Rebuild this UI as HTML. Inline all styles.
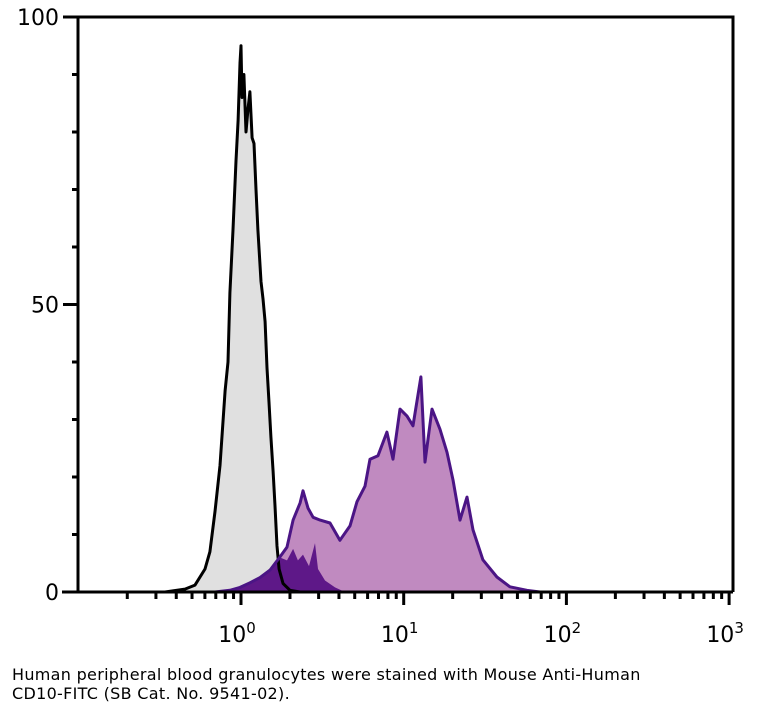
<!DOCTYPE html>
<html><head><meta charset="utf-8"><style>
html,body{margin:0;padding:0;background:#fff;width:762px;height:716px;overflow:hidden}
#cap{position:absolute;left:12px;top:665px;font:16px "DejaVu Sans",sans-serif;letter-spacing:0.3px;color:#000;line-height:19px}
</style></head><body>
<svg id="chart" width="762" height="660" style="position:absolute;left:0;top:0" xmlns="http://www.w3.org/2000/svg"></svg>
<div id="cap">Human peripheral blood granulocytes were stained with Mouse Anti-Human<br>CD10-FITC (SB Cat. No. 9541-02).</div>
<script>
const grayLog=[-0.467,-0.344,-0.283,-0.221,-0.191,-0.160,-0.129,-0.098,-0.080,-0.068,-0.049,-0.031,-0.018,-0.006,0,0.006,0.018,0.031,0.043,0.055,0.068,0.080,0.092,0.104,0.123,0.135,0.148,0.160,0.172,0.184,0.197,0.209,0.221,0.234,0.258,0.301,0.363];
const grayPct=[0,0.5,1.2,4,7,14,22,35,40,52,63,75,82,92,95,86,90,80,84,87,79,78,70,63,54,51,47,39,33,27,21,15,8,4,1.5,0.3,0];
const purpLog=[-0.160,-0.068,-0.006,0.055,0.117,0.178,0.240,0.283,0.320,0.363,0.381,0.412,0.443,0.486,0.547,0.608,0.670,0.713,0.762,0.793,0.842,0.897,0.934,0.977,1.020,1.057,1.106,1.131,1.174,1.223,1.266,1.303,1.346,1.389,1.426,1.487,1.573,1.653,1.758,1.838];
const purpPct=[0,0.3,0.8,1.6,2.5,3.8,6.1,7.8,12.5,15.5,17.6,14.6,13.0,12.5,12.0,9,11.5,15.7,18.4,23.1,23.7,27.8,23.1,31.8,30.6,28.9,37.4,22.6,31.8,28.3,24.3,19.5,12.5,16.5,10.8,5.6,2.6,0.9,0.3,0];
const darkLog=[-0.160,-0.006,0.055,0.117,0.178,0.240,0.283,0.320,0.350,0.381,0.418,0.455,0.473,0.516,0.578,0.639];
const darkPct=[0,0.8,1.6,2.5,3.8,6.0,5.5,7.5,5.5,6.5,4.5,8.5,4,2,0.8,0];
const yTicks=[0,50,100];
const xDecades=[0,1,2,3];

const svg=document.getElementById('chart');
const NS='http://www.w3.org/2000/svg';
const L=78,R=733,T=17,B=592;
const xs=l=>241+162.7*l;
const ys=p=>B-(B-T)*p/100;
function mk(tag,attrs,parent){const e=document.createElementNS(NS,tag);for(const k in attrs)e.setAttribute(k,attrs[k]);(parent||svg).appendChild(e);return e;}
function areaPath(lx,py){let d='M'+xs(lx[0])+','+B;for(let i=0;i<lx.length;i++)d+=' L'+xs(lx[i]).toFixed(1)+','+ys(py[i]).toFixed(1);d+=' L'+xs(lx[lx.length-1])+','+B+' Z';return d;}
function linePath(lx,py){let d='';for(let i=0;i<lx.length;i++)d+=(i?' L':'M')+xs(lx[i]).toFixed(1)+','+ys(py[i]).toFixed(1);return d;}

let e;
e=mk('path',{d:areaPath(grayLog,grayPct),fill:'#e0e0e0'});


e=mk('path',{d:areaPath(purpLog,purpPct),fill:'#c08ac0'});


e=mk('path',{d:areaPath(darkLog,darkPct),fill:'#5e1888'});


e=mk('path',{d:linePath(grayLog,grayPct),fill:'none',stroke:'#000','stroke-width':3,'stroke-linejoin':'round'});


e=mk('path',{d:linePath(purpLog,purpPct),fill:'none',stroke:'#4b1585','stroke-width':3,'stroke-linejoin':'round'});



e=mk('path',{d:`M${L},${B} L${L},${T} L${R},${T} L${R},${B} M62,${B} L${R},${B}`,fill:'none',stroke:'#000','stroke-width':3});



for(let v=0;v<=100;v+=10){
  const major=yTicks.includes(v);
  e=mk('line',{x1:major?63:72,x2:L,y1:ys(v),y2:ys(v),stroke:'#000','stroke-width':3});
  
  
}
yTicks.forEach(v=>{
  e=mk('text',{x:59,y:ys(v)+8,'text-anchor':'end','font-family':'DejaVu Sans, sans-serif','font-size':22});
  e.textContent=v;
  
  
});
for(let d=-1;d<=2;d++){
  for(let m=2;m<=9;m++){
    const l=d+Math.log10(m);
    e=mk('line',{x1:xs(l),x2:xs(l),y1:B,y2:B+7,stroke:'#000','stroke-width':3});
    
    
  }
}
xDecades.forEach(d=>{
  e=mk('line',{x1:xs(d),x2:xs(d),y1:B,y2:B+13,stroke:'#000','stroke-width':3});
  
  
  e=mk('text',{x:xs(d)-4,y:642,'text-anchor':'middle','font-family':'DejaVu Sans, sans-serif','font-size':22});
  e.textContent='10';
  const s=mk('tspan',{dy:-9,'font-size':15},e);s.textContent=d;
  
  
});
</script>
</body></html>
